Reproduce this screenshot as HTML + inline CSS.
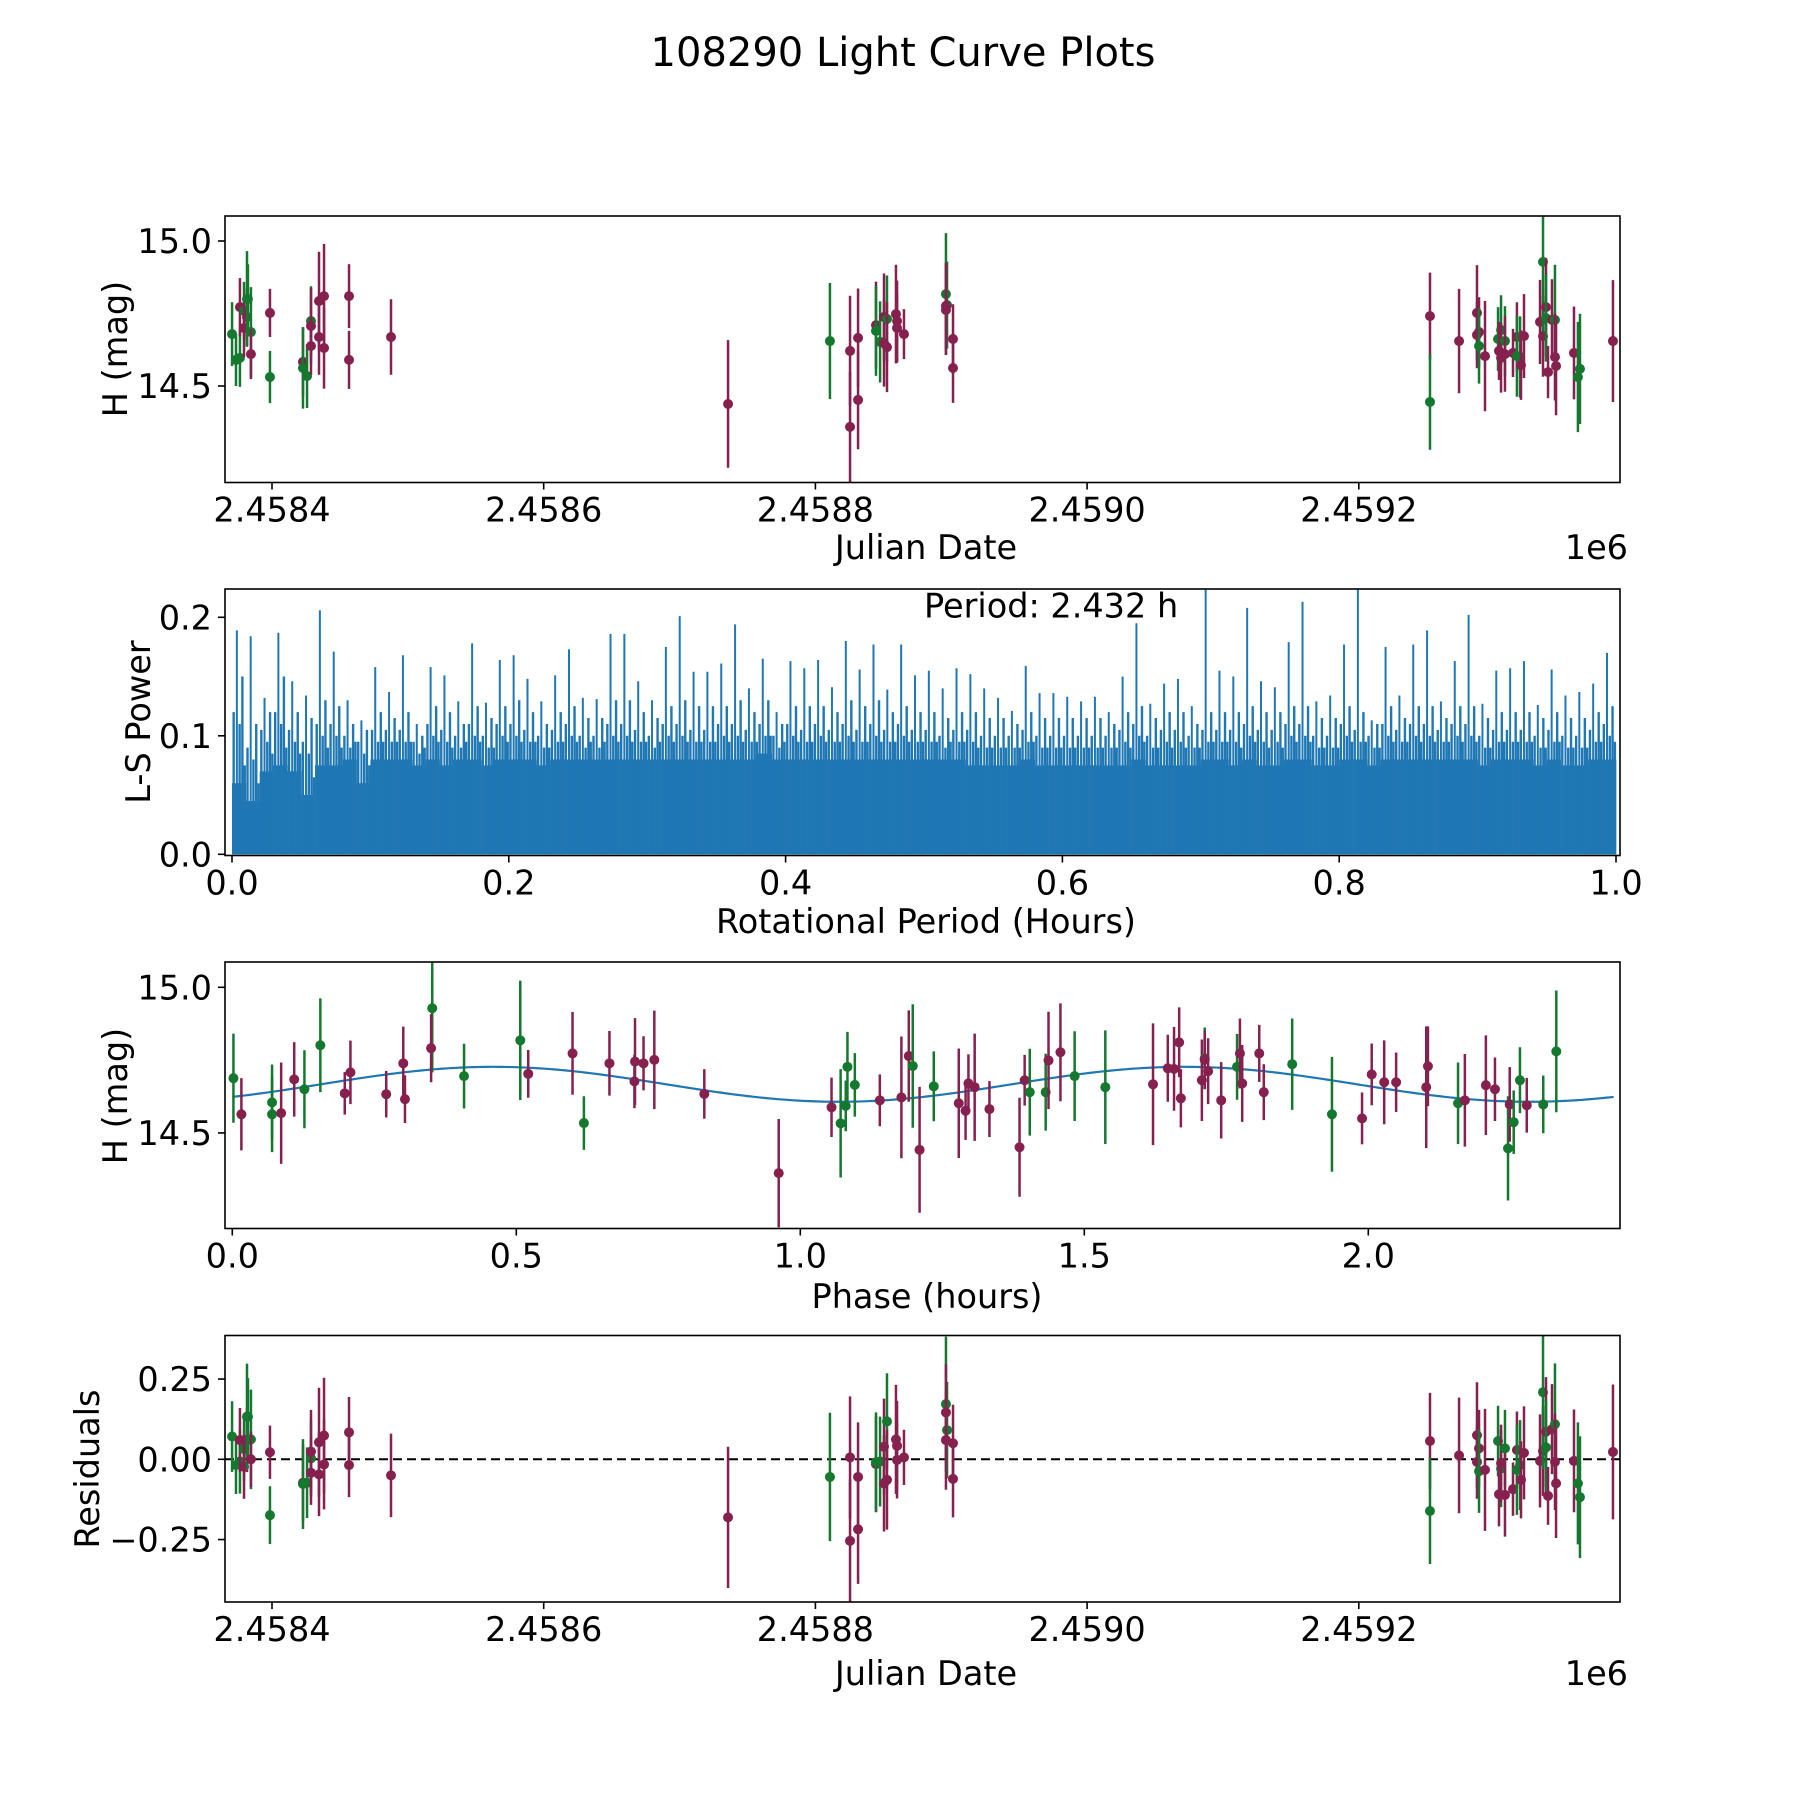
<!DOCTYPE html>
<html>
<head>
<meta charset="utf-8">
<style>
  html,body{margin:0;padding:0;background:#fff;}
  svg{display:block;font-family:"DejaVu Sans","Liberation Sans",sans-serif;}
</style>
</head>
<body>
<svg id="fig" width="1800" height="1800" viewBox="0 0 1800 1800" xmlns="http://www.w3.org/2000/svg">
  <rect x="0" y="0" width="1800" height="1800" fill="#fff"/>
  <text x="903" y="66" font-size="40" text-anchor="middle" fill="#000">108290 Light Curve Plots</text>
  <defs>
    <clipPath id="c1"><rect x="225" y="216" width="1395" height="266.5"/></clipPath>
    <clipPath id="c2"><rect x="225" y="589" width="1395" height="266.5"/></clipPath>
    <clipPath id="c3"><rect x="225" y="962" width="1395" height="266.5"/></clipPath>
    <clipPath id="c4"><rect x="225" y="1335.5" width="1395" height="266.5"/></clipPath>
  </defs>
  <g id="g1" clip-path="url(#c1)"></g>
  <g id="g2" clip-path="url(#c2)"></g>
  <g id="g3" clip-path="url(#c3)"></g>
  <g id="g4" clip-path="url(#c4)"></g>
  <g id="axes"></g>
</svg>
<script>
// ---------- Data: light curve (panel 1 & 4) ----------
const jd = [2458370.6,2458373.5,2458376.4,2458376.4,2458379.4,2458379.4,2458381.6,2458381.6,2458382.3,2458384.5,2458384.5,2458398.5,2458398.5,2458422.8,2458422.8,2458425.8,2458428.7,2458428.7,2458428.7,2458434.6,2458434.6,2458438.3,2458438.3,2458456.7,2458456.7,2458487.6,
2458735.7,2458810.7,2458825.5,2458825.5,2458831.4,2458831.4,2458844.6,2458844.6,2458847.6,2458850.5,2458850.5,2458852.7,2458852.7,2458859.3,2458860.1,2458860.1,2458865.2,2458896.1,2458896.9,2458896.1,2458896.1,2458901.3,2458901.3,
2459252.4,2459252.4,2459273.8,2459287.0,2459287.0,2459288.5,2459288.5,2459292.9,2459302.5,2459304.7,2459303.2,2459304.7,2459307.6,2459307.6,2459313.5,2459316.4,2459316.4,2459318.7,2459319.4,2459321.6,2459333.4,2459335.6,2459335.6,2459337.8,2459337.8,2459339.3,2459342.2,2459344.4,2459344.4,2459345.2,2459358.4,2459361.3,2459362.8,2459387.1];
const mag = [14.679,14.590,14.597,14.772,14.759,14.700,14.738,14.800,14.800,14.686,14.610,14.752,14.531,14.583,14.562,14.534,14.724,14.707,14.638,14.793,14.669,14.810,14.631,14.810,14.590,14.669,
14.438,14.655,14.621,14.359,14.666,14.452,14.710,14.690,14.652,14.738,14.648,14.731,14.634,14.748,14.724,14.700,14.679,14.817,14.779,14.776,14.762,14.662,14.562,
14.741,14.445,14.655,14.752,14.676,14.686,14.638,14.603,14.662,14.693,14.621,14.597,14.655,14.610,14.614,14.669,14.603,14.600,14.572,14.672,14.721,14.672,14.928,14.772,14.734,14.548,14.728,14.728,14.600,14.569,14.614,14.531,14.559,14.655];
const magErr = [0.11,0.09,0.10,0.10,0.10,0.10,0.10,0.165,0.12,0.155,0.086,0.083,0.09,0.12,0.14,0.11,0.12,0.13,0.10,0.17,0.13,0.18,0.14,0.11,0.10,0.13,
0.22,0.20,0.19,0.19,0.17,0.17,0.15,0.155,0.14,0.15,0.15,0.15,0.155,0.17,0.14,0.12,0.086,0.21,0.15,0.15,0.155,0.12,0.12,
0.15,0.165,0.18,0.165,0.115,0.12,0.13,0.19,0.11,0.12,0.10,0.12,0.12,0.13,0.083,0.12,0.14,0.14,0.12,0.145,0.145,0.14,0.24,0.17,0.15,0.09,0.14,0.19,0.15,0.17,0.16,0.19,0.19,0.21];
const residual = [0.071,-0.018,-0.007,0.060,0.032,-0.023,0.060,0.133,0.133,0.062,0.000,0.022,-0.174,-0.073,-0.077,-0.073,0.003,0.024,-0.042,0.053,-0.047,0.074,-0.016,0.084,-0.018,-0.050,
-0.181,-0.055,0.006,-0.254,-0.055,-0.218,-0.015,-0.009,-0.007,0.039,-0.075,0.118,-0.064,0.062,0.042,-0.002,0.006,0.172,0.091,0.146,0.060,0.050,-0.061,
0.057,-0.161,0.012,0.075,-0.008,0.034,-0.037,-0.033,0.057,-0.029,-0.109,-0.012,0.034,-0.111,-0.093,0.029,-0.033,-0.018,-0.064,0.020,-0.005,0.026,0.209,0.086,0.037,-0.114,0.094,0.109,-0.008,-0.075,-0.005,-0.075,-0.118,0.023];
const filt = "GGGMGMMGGGMMGMGGGMMMMMMMMM" + "MGMMMMMGGMMGMMMMMGGMMMM" + "MGMMMMGMGGMMGMMMGGMMMMGMGMMGMMMGGM";

// ---------- Data: phase-folded (panel 3) ----------
const phase = [0.002,0.016,0.070,0.070,0.086,0.109,0.127,0.155,0.198,0.208,0.271,0.301,0.304,0.352,0.350,0.408,0.507,0.521,0.599,0.619,0.664,0.708,0.709,0.724,0.743,
0.831,0.962,1.055,1.071,1.080,1.083,1.096,1.140,1.178,1.191,1.198,1.210,1.235,1.279,1.291,1.296,1.307,1.333,1.386,1.395,1.404,1.432,1.437,1.458,1.483,1.537,1.621,1.647,1.658,1.667,1.670,
1.707,1.712,1.712,1.718,1.741,1.769,1.774,1.778,1.808,1.816,1.866,1.936,1.989,2.006,2.028,2.049,2.102,2.105,2.158,2.170,2.207,2.223,2.246,2.249,2.256,2.267,2.279,2.308,2.331];
const phaseMag = [14.688,14.564,14.605,14.564,14.568,14.684,14.650,14.801,14.636,14.708,14.633,14.739,14.616,14.928,14.791,14.695,14.818,14.703,14.773,14.534,14.739,14.677,14.745,14.739,14.751,
14.634,14.362,14.588,14.533,14.593,14.727,14.665,14.612,14.622,14.764,14.730,14.442,14.660,14.602,14.576,14.670,14.657,14.582,14.451,14.681,14.640,14.640,14.749,14.777,14.695,14.657,14.667,14.722,14.720,14.811,14.619,
14.681,14.756,14.751,14.712,14.612,14.727,14.773,14.670,14.773,14.640,14.736,14.564,14.550,14.701,14.674,14.674,14.657,14.729,14.602,14.612,14.664,14.650,14.447,14.598,14.537,14.681,14.595,14.598,14.780];
const phaseErr = [0.153,0.124,0.13,0.13,0.174,0.128,0.134,0.161,0.073,0.109,0.08,0.126,0.082,0.22,0.117,0.111,0.205,0.082,0.142,0.092,0.111,0.092,0.149,0.093,0.169,
0.085,0.186,0.102,0.186,0.087,0.12,0.109,0.089,0.209,0.157,0.212,0.216,0.12,0.188,0.1,0.1,0.184,0.096,0.17,0.087,0.149,0.132,0.167,0.168,0.154,0.195,0.209,0.115,0.144,0.12,0.1,
0.14,0.106,0.1,0.113,0.131,0.113,0.12,0.132,0.098,0.096,0.157,0.197,0.089,0.106,0.144,0.102,0.209,0.137,0.14,0.159,0.171,0.109,0.179,0.128,0.109,0.113,0.094,0.099,0.209];
const phaseFilt = "GMGGMMGGMMMMMGMGGMMGMMMMM" + "MMMGGGGMMMGMGMMMMMMMGGMMGGMMMMM" + "MGMMMGMMMMGGMMMMMMGMMMGMGGMGG";

// ---------- Data: fit model ----------
const periodHours = 2.432;
const fitMean = 14.667, fitAmp = 0.060, fitPeakPhase = 0.46;

// ---------- Data: periodogram (bins of 0.01 h) ----------
const lsPeak = [0.189,0.184,0.132,0.187,0.146,0.134,0.206,0.171,0.130,0.113,0.158,0.137,0.168,0.110,0.158,0.151,0.129,0.178,0.128,0.164,
0.168,0.148,0.129,0.151,0.173,0.132,0.131,0.186,0.186,0.146,0.130,0.175,0.201,0.154,0.154,0.161,0.194,0.140,0.165,0.120,
0.163,0.157,0.164,0.141,0.180,0.156,0.177,0.139,0.177,0.151,0.155,0.140,0.157,0.152,0.140,0.132,0.121,0.159,0.136,0.136,
0.133,0.129,0.133,0.120,0.150,0.195,0.127,0.144,0.148,0.125,0.240,0.155,0.150,0.208,0.146,0.141,0.179,0.213,0.129,0.134,
0.177,0.240,0.113,0.175,0.134,0.177,0.189,0.129,0.163,0.202,0.127,0.155,0.157,0.163,0.126,0.156,0.134,0.137,0.144,0.170];
const lsSecond = [0.150,0.110,0.120,0.150,0.120,0.115,0.130,0.125,0.110,0.105,0.120,0.115,0.120,0.100,0.125,0.120,0.110,0.125,0.115,0.125,
0.130,0.120,0.110,0.120,0.125,0.115,0.115,0.130,0.130,0.120,0.115,0.125,0.130,0.125,0.125,0.125,0.130,0.120,0.130,0.110,
0.125,0.125,0.125,0.120,0.130,0.125,0.130,0.120,0.125,0.120,0.120,0.115,0.120,0.120,0.115,0.115,0.110,0.120,0.115,0.115,
0.115,0.115,0.115,0.110,0.120,0.125,0.115,0.120,0.120,0.110,0.120,0.120,0.120,0.125,0.120,0.120,0.125,0.125,0.115,0.115,
0.125,0.120,0.110,0.125,0.115,0.125,0.125,0.115,0.125,0.125,0.115,0.120,0.120,0.120,0.115,0.120,0.115,0.115,0.120,0.125];
const lsThird = [0.120,0.090,0.105,0.120,0.105,0.095,0.110,0.110,0.100,0.095,0.105,0.105,0.105,0.095,0.110,0.105,0.100,0.110,0.100,0.110,
0.110,0.105,0.100,0.105,0.110,0.100,0.100,0.110,0.110,0.105,0.100,0.110,0.110,0.105,0.105,0.110,0.110,0.105,0.110,0.100,
0.110,0.105,0.110,0.105,0.110,0.105,0.110,0.105,0.110,0.105,0.105,0.100,0.105,0.105,0.100,0.100,0.100,0.105,0.100,0.100,
0.100,0.100,0.100,0.100,0.105,0.110,0.100,0.105,0.105,0.100,0.105,0.105,0.105,0.110,0.105,0.105,0.110,0.110,0.100,0.100,
0.110,0.105,0.100,0.110,0.105,0.110,0.110,0.105,0.110,0.110,0.100,0.105,0.105,0.105,0.100,0.105,0.100,0.100,0.105,0.110];
const lsFloor = [0.060,0.045,0.070,0.075,0.070,0.050,0.075,0.075,0.080,0.060,0.080,0.080,0.080,0.075,0.080,0.075,0.080,0.080,0.075,0.080,
0.080,0.080,0.075,0.080,0.080,0.080,0.080,0.080,0.080,0.080,0.080,0.080,0.080,0.080,0.080,0.080,0.080,0.080,0.085,0.080,
0.080,0.080,0.080,0.080,0.080,0.080,0.080,0.080,0.080,0.080,0.080,0.080,0.080,0.075,0.075,0.075,0.075,0.080,0.075,0.075,
0.075,0.075,0.075,0.075,0.075,0.080,0.075,0.075,0.075,0.075,0.080,0.080,0.075,0.080,0.075,0.075,0.080,0.080,0.075,0.075,
0.080,0.080,0.075,0.080,0.080,0.080,0.080,0.080,0.080,0.080,0.075,0.080,0.080,0.080,0.075,0.080,0.075,0.075,0.080,0.080];
const lsBin = 0.01;

// ---------- Tick labels ----------
const jdTicks = [2458400,2458600,2458800,2459000,2459200];
const jdTickLabels = ["2.4584","2.4586","2.4588","2.4590","2.4592"];
const magTicks = [15.0,14.5];
const magTickLabels = ["15.0","14.5"];
const lsXTicks = [0,0.2,0.4,0.6,0.8,1.0];
const lsXTickLabels = ["0.0","0.2","0.4","0.6","0.8","1.0"];
const lsYTicks = [0,0.1,0.2];
const lsYTickLabels = ["0.0","0.1","0.2"];
const phTicks = [0,0.5,1.0,1.5,2.0];
const phTickLabels = ["0.0","0.5","1.0","1.5","2.0"];
const resTicks = [0.25,0,-0.25];
const resTickLabels = ["0.25","0.00","\u22120.25"];

// ---------- Axis functions ----------
const L = 225, R = 1620, H = 266.5;
const FS = 33.5;
const tops = [216, 589, 962, 1335.5];
const xJD = v => 272 + (v - 2458400) * 1.3585;
const yMag1 = m => 241 + (15 - m) * 290;
const xLS = v => 232 + v * 1384;
const yLS = v => 854.3 - v * 1185;
const xPh = p => 232.3 + p * 568;
const yMag3 = m => 987.3 + (15 - m) * 291.3;
const yRes = r => 1459.3 - r * 321;

const NS = "http://www.w3.org/2000/svg";
const COL = {G: "#15782f", M: "#86204f"};
function mk(tag, attrs, parent) {
  const e = document.createElementNS(NS, tag);
  for (const k in attrs) e.setAttribute(k, attrs[k]);
  parent.appendChild(e);
  return e;
}
const axes = document.getElementById('axes');

function frame(i, name) {
  const r = mk('rect', {x: L, y: tops[i], width: R - L, height: H, fill: 'none', stroke: '#000', 'stroke-width': 1.6}, axes);
  
  
}
function xTicks(i, vals, labels, fx, name) {
  const yb = tops[i] + H;
  vals.forEach((v, k) => {
    const x = fx(v);
    const t = mk('line', {x1: x, x2: x, y1: yb, y2: yb + 7, stroke: '#000', 'stroke-width': 1.6}, axes);
    
    
    const tx = mk('text', {x: x, y: yb + 39, 'font-size': FS, 'text-anchor': 'middle', fill: '#000'}, axes);
    tx.textContent = labels[k];
    
    
  });
}
function yTicks(i, vals, labels, fy, name) {
  vals.forEach((v, k) => {
    const y = fy(v);
    const t = mk('line', {x1: L - 7, x2: L, y1: y, y2: y, stroke: '#000', 'stroke-width': 1.6}, axes);
    
    
    const tx = mk('text', {x: L - 13, y: y + 12, 'font-size': FS, 'text-anchor': 'end', fill: '#000'}, axes);
    tx.textContent = labels[k];
    
    
  });
}
function label(txt, x, y, rot, name, anchor) {
  const t = mk('text', {x: x, y: y, 'font-size': FS, 'text-anchor': anchor || 'middle', fill: '#000'}, axes);
  if (rot) t.setAttribute('transform', 'rotate(-90 ' + x + ' ' + y + ')');
  t.textContent = txt;
  
  
}
function errPoint(g, x, y, e, col, name) {
  const l = mk('line', {x1: x, x2: x, y1: y - e, y2: y + e, stroke: col, 'stroke-width': 2.5}, g);
  
  
  const c = mk('circle', {cx: x, cy: y, r: 5, fill: col}, g);
  
  
}

// ---------- Panel 1: light curve ----------
const g1 = document.getElementById('g1');
jd.forEach((v, i) => {
  errPoint(g1, xJD(v), yMag1(mag[i]), magErr[i] * 290, COL[filt[i]], 'light-curve-point');
});
frame(0, 'light-curve-axes');
xTicks(0, jdTicks, jdTickLabels, xJD, 'jd-x');
yTicks(0, magTicks, magTickLabels, yMag1, 'mag-y');
label('Julian Date', 926, 559, false, 'light-curve-x-axis-title');
label('1e6', 1628, 559, false, 'light-curve-x-offset', 'end');
label('H (mag)', 127, 349, true, 'light-curve-y-axis-title');

// ---------- Panel 2: periodogram ----------
const g2 = document.getElementById('g2');
const y0 = yLS(0);
function spike(x, v, w, name) {
  const s = mk('line', {x1: x, x2: x, y1: y0, y2: yLS(v), stroke: '#1f77b4', 'stroke-width': w}, g2);
  
  
}
lsPeak.forEach((v, i) => {
  const xa = xLS(i * lsBin), xb = xLS((i + 1) * lsBin), bw = xb - xa;
  const rc = mk('rect', {x: xa, y: yLS(lsFloor[i]), width: bw + 0.3, height: y0 - yLS(lsFloor[i]), fill: '#1f77b4'}, g2);
  
  
  spike(xa + bw * 0.35, v, 2, 'periodogram-peak');
  spike(xa + bw * 0.75, lsSecond[i], 2.4, 'periodogram-secondary-peak');
  spike(xa + bw * 0.12, lsThird[i], 2.4, 'periodogram-minor-peak');
  spike(xa + bw * 0.55, lsThird[i] - 0.01, 2.4, 'periodogram-minor-peak');
  spike(xa + bw * 0.92, lsFloor[i] + 0.015, 2.4, 'periodogram-minor-peak');
});
frame(1, 'periodogram-axes');
xTicks(1, lsXTicks, lsXTickLabels, xLS, 'period-x');
yTicks(1, lsYTicks, lsYTickLabels, yLS, 'power-y');
label('Rotational Period (Hours)', 926, 933, false, 'periodogram-x-axis-title');
label('L-S Power', 150, 722, true, 'periodogram-y-axis-title');
label('Period: ' + periodHours.toFixed(3) + ' h', xLS(0.5), yLS(0.2), false, 'period-annotation', 'start');

// ---------- Panel 3: phase plot ----------
const g3 = document.getElementById('g3');
let d = '';
for (let k = 0; k <= 400; k++) {
  const p = periodHours * k / 400;
  const m = fitMean + fitAmp * Math.cos(2 * Math.PI * (p - fitPeakPhase) / (periodHours / 2));
  d += (k ? 'L' : 'M') + xPh(p).toFixed(2) + ' ' + yMag3(m).toFixed(2);
}
const curve = mk('path', {d: d, fill: 'none', stroke: '#1f77b4', 'stroke-width': 2.2}, g3);


phase.forEach((p, i) => {
  errPoint(g3, xPh(p), yMag3(phaseMag[i]), phaseErr[i] * 291.3, COL[phaseFilt[i]], 'phase-point');
});
frame(2, 'phase-axes');
xTicks(2, phTicks, phTickLabels, xPh, 'phase-x');
yTicks(2, magTicks, magTickLabels, yMag3, 'phase-mag-y');
label('Phase (hours)', 927, 1308, false, 'phase-x-axis-title');
label('H (mag)', 127, 1096, true, 'phase-y-axis-title');

// ---------- Panel 4: residuals ----------
const g4 = document.getElementById('g4');
const zl = mk('line', {x1: L, x2: R, y1: yRes(0), y2: yRes(0), stroke: '#000', 'stroke-width': 2, 'stroke-dasharray': '9 5'}, g4);


jd.forEach((v, i) => {
  errPoint(g4, xJD(v), yRes(residual[i]), magErr[i] * 321, COL[filt[i]], 'residual-point');
});
frame(3, 'residuals-axes');
xTicks(3, jdTicks, jdTickLabels, xJD, 'res-jd-x');
yTicks(3, resTicks, resTickLabels, yRes, 'residual-y');
label('Julian Date', 926, 1685, false, 'residuals-x-axis-title');
label('1e6', 1628, 1685, false, 'residuals-x-offset', 'end');
label('Residuals', 99, 1469, true, 'residuals-y-axis-title');
</script>
</body>
</html>
